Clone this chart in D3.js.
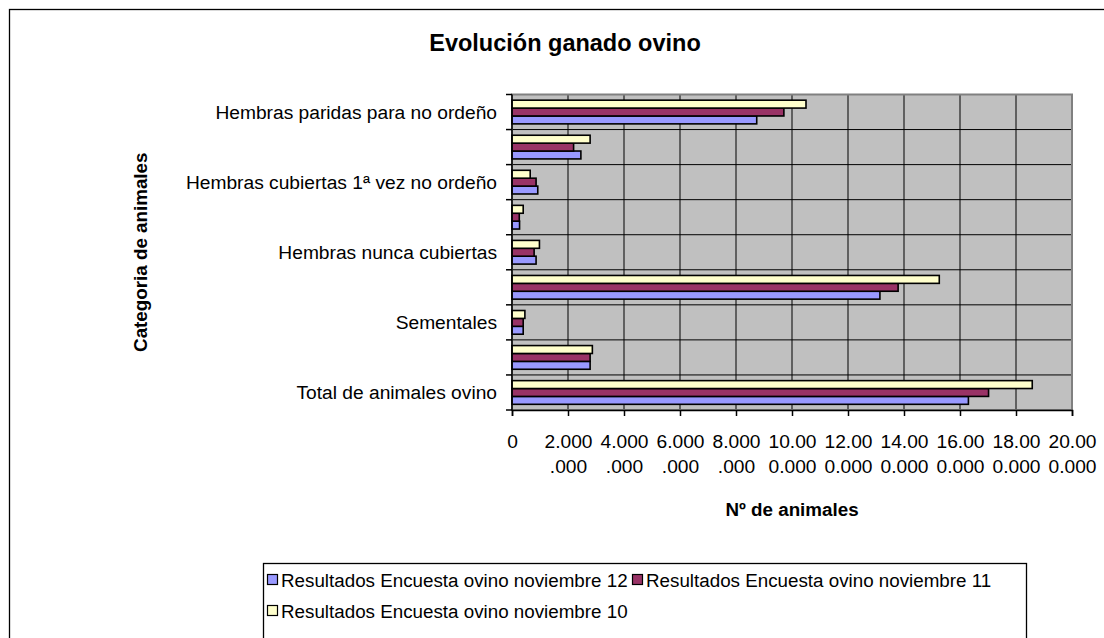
<!DOCTYPE html>
<html>
<head>
<meta charset="utf-8">
<script src="https://cdn.jsdelivr.net/npm/d3@7"></script>
<style>
  body { margin: 0; background: #fff; }
  svg text { font-family: "Liberation Sans", Arial, sans-serif; fill: #000; }
</style>
</head>
<body>
<div id="chart"></div>
<script>
// Categories, top to bottom (Excel only prints every other label)
const categories = [
    'Hembras paridas para no ordeño',
    'Hembras paridas para ordeño',
    'Hembras cubiertas 1ª vez no ordeño',
    'Hembras cubiertas 1ª vez ordeño',
    'Hembras nunca cubiertas',
    'Total hembras reproductoras',
    'Sementales',
    'Corderos',
    'Total de animales ovino'
];
const seriesNames = [
    'Resultados Encuesta ovino noviembre 12',
    'Resultados Encuesta ovino noviembre 11',
    'Resultados Encuesta ovino noviembre 10'
];
const nov12 = [8740000, 2460000, 920000, 270000, 860000, 13140000, 400000, 2790000, 16300000];
const nov11 = [9710000, 2200000, 860000, 260000, 790000, 13790000, 400000, 2790000, 17020000];
const nov10 = [10500000, 2790000, 650000, 400000, 980000, 15260000, 460000, 2870000, 18580000];
const xTicks = [0, 2000000, 4000000, 6000000, 8000000, 10000000, 12000000, 14000000, 16000000, 18000000, 20000000];
const colors = ['#9999FF', '#993366', '#FFFFCC'];

const W = 1104, H = 638;
const plot = { left: 512, right: 1072, top: 94.5, bottom: 410 };
const labelSize = '19.2px';

const svg = d3.select('#chart').append('svg')
    .attr('width', W).attr('height', H);

// outer chart frame (runs off the right and bottom edges)
svg.append('rect')
    .attr('x', 9.5).attr('y', 9.5)
    .attr('width', W + 20).attr('height', H + 20)
    .attr('fill', '#fff').attr('stroke', '#000').attr('stroke-width', 1.3);

const x = d3.scaleLinear().domain([0, 20000000]).range([plot.left, plot.right]);
const y = d3.scaleBand().domain(categories).range([plot.top, plot.bottom]).padding(0);
// inside each band the last series sits on top (Excel order)
const ySub = d3.scaleBand()
    .domain([2, 1, 0])
    .range([0, y.bandwidth()])
    .paddingInner(0)
    .paddingOuter(0.72);

const rows = categories.map((c, i) => ({ cat: c, vals: [nov12[i], nov11[i], nov10[i]] }));

// plot background
svg.append('rect')
    .attr('x', plot.left).attr('y', plot.top)
    .attr('width', plot.right - plot.left).attr('height', plot.bottom - plot.top)
    .attr('fill', '#C0C0C0');

// vertical gridlines
svg.append('g').selectAll('line')
    .data(xTicks.slice(1))
    .enter().append('line')
    .attr('x1', (d) => x(d)).attr('x2', (d) => x(d))
    .attr('y1', plot.top).attr('y2', plot.bottom)
    .attr('stroke', '#000').attr('stroke-width', 1);

// horizontal gridlines at category boundaries
const bounds = categories.map((c) => y(c)).concat([plot.bottom]);
svg.append('g').selectAll('line')
    .data(bounds.slice(1, -1))
    .enter().append('line')
    .attr('x1', plot.left).attr('x2', plot.right)
    .attr('y1', (d) => d).attr('y2', (d) => d)
    .attr('stroke', '#000').attr('stroke-width', 1);

// plot border
svg.append('rect')
    .attr('x', plot.left).attr('y', plot.top)
    .attr('width', plot.right - plot.left).attr('height', plot.bottom - plot.top)
    .attr('fill', 'none').attr('stroke', '#808080').attr('stroke-width', 2);

// bars
svg.append('g').selectAll('g')
    .data(rows)
    .enter().append('g')
    .attr('transform', (d) => `translate(0, ${y(d.cat)})`)
    .selectAll('rect')
    .data((d) => d.vals.map((v, k) => ({ k, v })))
    .enter().append('rect')
    .attr('x', x(0))
    .attr('y', (d) => ySub(d.k))
    .attr('width', (d) => x(d.v) - x(0))
    .attr('height', ySub.bandwidth())
    .attr('fill', (d) => colors[d.k])
    .attr('stroke', '#000').attr('stroke-width', 1.6);

// left axis
const leftAxis = svg.append('g');
leftAxis.append('line')
    .attr('x1', plot.left).attr('x2', plot.left)
    .attr('y1', plot.top).attr('y2', plot.bottom)
    .attr('stroke', '#000').attr('stroke-width', 1.5);
leftAxis.selectAll('line.tk')
    .data(bounds)
    .enter().append('line').attr('class', 'tk')
    .attr('x1', plot.left - 6).attr('x2', plot.left)
    .attr('y1', (d) => d).attr('y2', (d) => d)
    .attr('stroke', '#000').attr('stroke-width', 1.5);
leftAxis.selectAll('text')
    .data(categories.filter((c, i) => i % 2 === 0))
    .enter().append('text')
    .attr('x', plot.left - 15)
    .attr('y', (d) => y(d) + y.bandwidth() / 2 + 6.5)
    .attr('text-anchor', 'end')
    .style('font-size', labelSize)
    .text((d) => d);

// bottom axis
const fmt = d3.formatLocale({ decimal: ',', thousands: '.', grouping: [3], currency: ['', ' €'] }).format(',d');
const xAxis = d3.axisBottom(x).tickValues(xTicks).tickSize(6).tickFormat('');
const gx = svg.append('g')
    .attr('transform', `translate(0, ${plot.bottom})`)
    .call(xAxis);
gx.select('.domain').attr('stroke', '#000').attr('stroke-width', 1.5);
gx.selectAll('.tick line').attr('stroke', '#000').attr('stroke-width', 1.5);
gx.selectAll('.tick').each(function (d) {
    const s = fmt(d);
    const t = d3.select(this).append('text')
        .attr('text-anchor', 'middle')
        .style('font-size', labelSize);
    t.append('tspan').attr('x', 0).attr('y', 38).text(s.slice(0, 5));
    if (s.length > 5) t.append('tspan').attr('x', 0).attr('y', 63).text(s.slice(5));
});

// titles
svg.append('text')
    .attr('x', 565).attr('y', 51)
    .attr('text-anchor', 'middle')
    .style('font-size', '23.5px').style('font-weight', 'bold')
    .text('Evolución ganado ovino');
svg.append('text')
    .attr('x', (plot.left + plot.right) / 2).attr('y', 516)
    .attr('text-anchor', 'middle')
    .style('font-size', '18.8px').style('font-weight', 'bold')
    .text('Nº de animales');
svg.append('text')
    .attr('transform', `translate(147, ${(plot.top + plot.bottom) / 2}) rotate(-90)`)
    .attr('text-anchor', 'middle')
    .style('font-size', '18.8px').style('font-weight', 'bold')
    .text('Categoria de animales');

// legend
const legend = svg.append('g');
legend.append('rect')
    .attr('x', 263.5).attr('y', 563.5)
    .attr('width', 763).attr('height', 80)
    .attr('fill', '#fff').attr('stroke', '#000').attr('stroke-width', 1.3);
const legPos = [[267, 587], [632, 587], [267, 618]];
seriesNames.forEach((name, k) => {
    const [lx, ly] = legPos[k];
    legend.append('rect')
        .attr('x', lx + 0.5).attr('y', ly - 12.5)
        .attr('width', 10).attr('height', 10)
        .attr('fill', colors[k]).attr('stroke', '#000').attr('stroke-width', 1.2);
    legend.append('text')
        .attr('x', lx + 14).attr('y', ly)
        .style('font-size', '18.8px')
        .text(name);
});
</script>
</body>
</html>
